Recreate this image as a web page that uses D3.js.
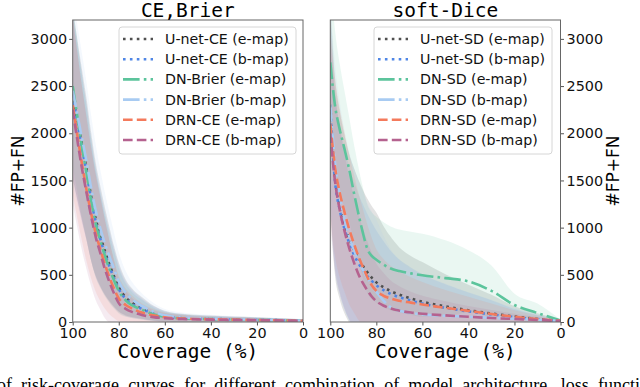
<!DOCTYPE html>
<html>
<head>
<meta charset="utf-8">
<script src="https://cdn.jsdelivr.net/npm/d3@7"></script>
<style>
  html, body { margin: 0; padding: 0; background: #fff; overflow: hidden; }
  svg { display: block; }
</style>
</head>
<body>
<div id="chart"></div>
<script>
// coverage grid (%), shared by every curve
const coverage = [100, 98, 96, 94, 92, 90, 88, 86, 84, 82, 80, 77, 74, 70, 65, 60, 50, 40, 30, 20, 10, 0];
const yTicks = [0, 500, 1000, 1500, 2000, 2500, 3000];
const xTicks = [100, 80, 60, 40, 20, 0];

// left panel: CE / Brier losses (mean #FP+FN and std band)
const unetCE_e   = [2420, 2150, 1880, 1620, 1330, 1090, 910, 750, 610, 480, 370, 260, 200, 150, 95, 62, 40, 33, 28, 24, 19, 12];
const unetCE_b   = [2400, 2120, 1850, 1590, 1300, 1060, 880, 720, 585, 460, 350, 245, 188, 140, 88, 58, 38, 31, 27, 23, 18, 12];
const dnBrier_e  = [2500, 2180, 1860, 1580, 1290, 1040, 860, 700, 560, 440, 330, 230, 175, 130, 82, 55, 36, 30, 26, 22, 18, 12];
const dnBrier_b  = [2450, 2200, 1950, 1700, 1420, 1180, 990, 830, 690, 560, 430, 310, 235, 170, 110, 70, 45, 36, 30, 25, 20, 14];
const drnCE_e    = [2300, 1980, 1680, 1400, 1150, 940, 770, 610, 470, 350, 250, 180, 140, 100, 70, 50, 35, 29, 25, 21, 17, 12];
const drnCE_b    = [2250, 1930, 1630, 1370, 1120, 900, 730, 560, 420, 300, 200, 140, 105, 75, 52, 40, 30, 25, 22, 19, 16, 12];

const unetCE_eStd  = [900, 850, 800, 750, 680, 600, 530, 460, 390, 320, 260, 190, 150, 115, 80, 58, 42, 35, 30, 26, 22, 18];
const unetCE_bStd  = [880, 830, 780, 720, 650, 580, 510, 440, 375, 310, 250, 185, 145, 110, 78, 56, 40, 34, 29, 25, 21, 17];
const dnBrier_eStd = [850, 800, 750, 700, 640, 570, 500, 430, 360, 300, 240, 175, 135, 105, 72, 52, 38, 32, 28, 24, 20, 16];
const dnBrier_bStd = [1000, 950, 900, 840, 770, 700, 620, 540, 460, 380, 310, 230, 180, 135, 95, 68, 48, 40, 33, 28, 23, 18];
const drnCE_eStd   = [950, 880, 820, 760, 690, 620, 550, 470, 390, 310, 240, 175, 135, 100, 70, 50, 36, 30, 26, 22, 19, 15];
const drnCE_bStd   = [1000, 930, 870, 810, 740, 670, 600, 520, 430, 340, 260, 190, 145, 105, 75, 52, 37, 31, 27, 23, 19, 15];

// right panel: soft-Dice loss
const unetSD_e   = [2300, 1550, 1250, 1050, 900, 780, 680, 600, 530, 470, 420, 370, 330, 290, 250, 215, 165, 125, 90, 58, 32, 12];
const unetSD_b   = [2250, 1500, 1200, 1000, 850, 730, 630, 555, 490, 435, 390, 340, 300, 262, 228, 195, 150, 112, 80, 52, 30, 12];
const dnSD_e     = [2750, 2300, 2050, 1850, 1640, 1400, 1170, 960, 780, 700, 660, 610, 570, 540, 515, 495, 465, 430, 330, 180, 95, 15];
const dnSD_b     = [2300, 1700, 1350, 1100, 920, 780, 660, 560, 470, 390, 320, 230, 160, 120, 95, 80, 65, 55, 45, 35, 24, 12];
const drnSD_e    = [2100, 1650, 1380, 1180, 1000, 850, 710, 590, 480, 390, 330, 280, 250, 225, 205, 185, 150, 118, 85, 55, 30, 12];
const drnSD_b    = [2000, 1500, 1200, 980, 800, 650, 520, 420, 340, 270, 220, 175, 145, 120, 100, 88, 70, 55, 42, 32, 22, 10];

const unetSD_eStd = [1100, 1050, 1000, 950, 900, 870, 840, 810, 780, 760, 740, 650, 580, 500, 450, 420, 340, 270, 200, 110, 60, 15];
const unetSD_bStd = [1000, 950, 900, 860, 820, 780, 740, 700, 660, 620, 580, 520, 460, 400, 350, 310, 250, 200, 150, 85, 45, 12];
const dnSD_eStd   = [900, 800, 700, 620, 560, 520, 500, 480, 470, 460, 455, 450, 445, 440, 440, 440, 400, 330, 270, 120, 100, 10];
const dnSD_bStd   = [1100, 1050, 1000, 950, 900, 870, 850, 830, 800, 780, 760, 690, 620, 540, 470, 420, 340, 260, 190, 110, 55, 12];
const drnSD_eStd  = [1000, 950, 900, 850, 800, 740, 680, 620, 560, 500, 440, 390, 350, 310, 270, 240, 190, 150, 110, 70, 40, 12];
const drnSD_bStd  = [1000, 940, 880, 820, 760, 700, 640, 580, 520, 460, 400, 350, 300, 260, 220, 190, 150, 115, 85, 55, 30, 10];

const caption = "of risk-coverage curves for different combination of model architecture, loss function";

// 스타일 (색, 선 모양)
const styles = [
	{ color: "#505050", dash: "2.6,4.3" },
	{ color: "#4f86e6", dash: "2.6,4.3" },
	{ color: "#5cc49c", dash: "16.6,4.2,2.6,4.2" },
	{ color: "#a8cbf2", dash: "16.6,4.2,2.6,4.2" },
	{ color: "#f47a5c", dash: "9.6,4.2" },
	{ color: "#b5628f", dash: "9.6,4.2" }
];

const panels = [
	{
		title: "CE,Brier", left: 72.7, right: 303, yAxis: "left",
		names: ["U-net-CE (e-map)", "U-net-CE (b-map)", "DN-Brier (e-map)", "DN-Brier (b-map)", "DRN-CE (e-map)", "DRN-CE (b-map)"],
		means: [unetCE_e, unetCE_b, dnBrier_e, dnBrier_b, drnCE_e, drnCE_b],
		stds: [unetCE_eStd, unetCE_bStd, dnBrier_eStd, dnBrier_bStd, drnCE_eStd, drnCE_bStd],
		legend: { x: 119, w: 177 }
	},
	{
		title: "soft-Dice", left: 330.3, right: 560.5, yAxis: "right",
		names: ["U-net-SD (e-map)", "U-net-SD (b-map)", "DN-SD (e-map)", "DN-SD (b-map)", "DRN-SD (e-map)", "DRN-SD (b-map)"],
		means: [unetSD_e, unetSD_b, dnSD_e, dnSD_b, drnSD_e, drnSD_b],
		stds: [unetSD_eStd, unetSD_bStd, dnSD_eStd, dnSD_bStd, drnSD_eStd, drnSD_bStd],
		legend: { x: 374, w: 178 }
	}
];

const W = 640, H = 387;
const plotTop = 20, plotBottom = 322;
const sans = "'DejaVu Sans', sans-serif";
const mono = "'DejaVu Sans Mono', monospace";

const svg = d3.select("#chart").append("svg")
	.attr("width", W)
	.attr("height", H);

const y = d3.scaleLinear().domain([0, 3200]).range([plotBottom, plotTop]);

panels.forEach((p, pi) => {
	const x = d3.scaleLinear().domain([100, 0]).range([p.left, p.right]);
	const g = svg.append("g");

	const clipId = "clip" + pi;
	svg.append("clipPath").attr("id", clipId)
		.append("rect")
		.attr("x", p.left).attr("y", plotTop)
		.attr("width", p.right - p.left).attr("height", plotBottom - plotTop);

	const plot = g.append("g").attr("clip-path", `url(#${clipId})`);

	// std 밴드
	p.means.forEach((m, i) => {
		const rows = coverage.map((c, k) => ({ c, m: m[k], s: p.stds[i][k] }));
		plot.append("path")
			.datum(rows)
			.attr("fill", styles[i].color)
			.attr("fill-opacity", i === 0 ? 0.16 : 0.13)
			.attr("stroke", "none")
			.attr("d", d3.area()
				.curve(d3.curveMonotoneX)
				.x(d => x(d.c))
				.y0(d => y(d.m - d.s))
				.y1(d => y(d.m + d.s)));
	});

	// 평균 곡선
	p.means.forEach((m, i) => {
		const rows = coverage.map((c, k) => ({ c, m: m[k] }));
		plot.append("path")
			.datum(rows)
			.attr("fill", "none")
			.attr("stroke", styles[i].color)
			.attr("stroke-width", 2.6)
			.attr("stroke-dasharray", styles[i].dash)
			.attr("d", d3.line()
				.curve(d3.curveMonotoneX)
				.x(d => x(d.c))
				.y(d => y(d.m)));
	});

	// 축
	const xAxis = g.append("g")
		.attr("transform", `translate(0,${plotBottom})`)
		.call(d3.axisBottom(x).tickValues(xTicks).tickSize(3.5).tickPadding(2.5).tickFormat(d3.format("d")));
	const yAx = p.yAxis === "left"
		? d3.axisLeft(y).tickValues(yTicks).tickSize(3.5).tickPadding(2)
		: d3.axisRight(y).tickValues(yTicks).tickSize(3.5).tickPadding(2.5);
	const yAxis = g.append("g")
		.attr("transform", `translate(${p.yAxis === "left" ? p.left : p.right},0)`)
		.call(yAx.tickFormat(d3.format("d")));

	[xAxis, yAxis].forEach(a => {
		a.select(".domain").remove();
		a.selectAll("line").attr("stroke", "#555");
		a.selectAll("text")
			.attr("fill", "#111")
			.style("font-family", sans)
			.style("font-size", "14.4px");
	});

	// 테두리
	g.append("rect")
		.attr("x", p.left).attr("y", plotTop)
		.attr("width", p.right - p.left).attr("height", plotBottom - plotTop)
		.attr("fill", "none")
		.attr("stroke", "#666")
		.attr("stroke-width", 1);

	const cx = (p.left + p.right) / 2;
	g.append("text")
		.attr("x", cx).attr("y", 16.5)
		.attr("text-anchor", "middle")
		.style("font-family", mono)
		.style("font-size", "19.5px")
		.text(p.title);

	g.append("text")
		.attr("x", cx).attr("y", 358)
		.attr("text-anchor", "middle")
		.style("font-family", mono)
		.style("font-size", "19.5px")
		.text("Coverage (%)");

	const labX = p.yAxis === "left" ? 24 : 619;
	g.append("text")
		.attr("transform", `translate(${labX},171) rotate(-90)`)
		.attr("text-anchor", "middle")
		.style("font-family", sans)
		.style("font-size", "17px")
		.text("#FP+FN");

	// 범례
	const lg = g.append("g");
	lg.append("rect")
		.attr("x", p.legend.x).attr("y", 27)
		.attr("width", p.legend.w).attr("height", 127)
		.attr("rx", 3)
		.attr("fill", "#fff")
		.attr("fill-opacity", 0.8)
		.attr("stroke", "#d6d6d6");
	p.names.forEach((name, i) => {
		const ly = 39 + i * 20.2;
		lg.append("line")
			.attr("x1", p.legend.x + 4).attr("x2", p.legend.x + 34)
			.attr("y1", ly).attr("y2", ly)
			.attr("stroke", styles[i].color)
			.attr("stroke-width", 2.6)
			.attr("stroke-dasharray", styles[i].dash);
		lg.append("text")
			.attr("x", p.legend.x + 46).attr("y", ly + 5)
			.style("font-family", sans)
			.style("font-size", "14.2px")
			.attr("fill", "#111")
			.text(name);
	});
});

svg.append("text")
	.attr("x", -3).attr("y", 391)
	.style("font-family", "'Liberation Serif', serif")
	.style("font-size", "18px")
	.style("word-spacing", "4.6px")
	.text(caption);
</script>
</body>
</html>
